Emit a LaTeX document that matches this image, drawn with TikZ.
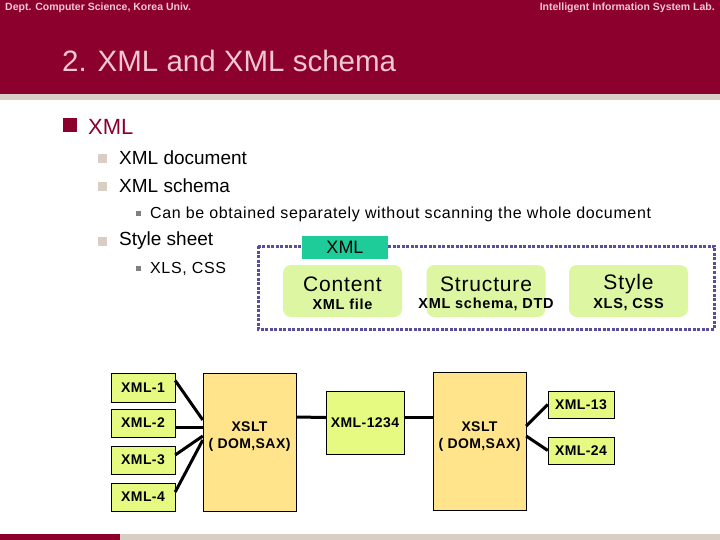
\documentclass[tikz,border=0pt]{standalone}
\usepackage{fontspec}
\setmainfont{Liberation Sans}
\usetikzlibrary{positioning,calc}
\definecolor{slidered}{RGB}{139,0,45}
\definecolor{slidebeige}{RGB}{216,206,196}
\definecolor{titlepink}{RGB}{242,200,208}
\definecolor{tagteal}{RGB}{30,204,154}
\definecolor{partgreen}{RGB}{220,246,162}
\definecolor{docgreen}{RGB}{230,250,130}
\definecolor{procyellow}{RGB}{255,228,140}
\definecolor{framepurple}{RGB}{88,78,158}
\newcommand{\fs}[1]{\fontsize{#1}{#1}\selectfont}
\newcommand{\wide}[1]{\addfontfeature{LetterSpace=#1}}

\begin{document}
\begin{tikzpicture}[x=1pt, y=-1pt,
	partbox/.style={fill=partgreen, rounded corners=8pt, minimum width=119pt, minimum height=52pt},
	docbox/.style={draw, fill=docgreen, minimum width=64pt, minimum height=28.5pt, font=\fs{14}\bfseries\wide{3}},
	procbox/.style={draw, fill=procyellow, minimum width=93pt, minimum height=138pt},
	proclabel/.style={align=center, font=\fontsize{14}{17}\selectfont\bfseries\wide{3}},
	link/.style={line width=3pt}
]
	\useasboundingbox (0,0) rectangle (720,540);
	% header and footer bands
	\fill[slidered] (0,0) rectangle (720,94);
	\fill[slidebeige] (0,94) rectangle (720,100);
	\fill[slidered] (0,534) rectangle (120,540);
	\fill[slidebeige] (120,534) rectangle (720,540);
	\node[anchor=west, text=titlepink, font=\fs{10.5}\bfseries, inner sep=0] (dept) at (5,8) {Dept. Computer Science, Korea Univ.};
	\node[anchor=east, text=titlepink, font=\fs{10.5}\bfseries, inner sep=0] (lab) at (715,8) {Intelligent Information System Lab.};
	\node[anchor=west, text=titlepink, font=\fs{29.5}, inner sep=0] (title) at (62,61) {2. XML and XML schema};
	% bullets
	\fill[slidered] (63,118) rectangle (77,132);
	\node[anchor=west, text=slidered, font=\fs{22}, inner sep=0] (b1) at (88,127) {XML};
	\foreach \y/\t in {158/XML document, 186/XML schema, 241/Style sheet} {
		\fill[slidebeige] (98,\y-4) rectangle (107,\y+5);
		\node[anchor=west, font=\fs{19}, inner sep=0] at (119,\y) {\t};
	}
	\foreach \y/\t in {214/Can be obtained separately without scanning the whole document, 269/{XLS, CSS}} {
		\fill[gray] (136,\y-3) rectangle (141,\y+2);
		\node[anchor=west, font=\fs{16}\wide{4}, inner sep=0] at (150,\y) {\t};
	}
	% XML frame
	\draw[framepurple, line width=3pt, dash pattern=on 3pt off 1.5pt] (258,246) rectangle (714,329);
	\node[fill=tagteal, minimum width=86pt, minimum height=23pt, font=\fs{18}] (tag) at (345,247.5) {XML};
	\node[partbox] (content) at (342.5,291) {};
	\node[partbox] (structure) at (486,291) {};
	\node[partbox] (style) at (628.5,291) {};
	\foreach \n/\a/\b in {content/Content/XML file, structure/Structure/{XML schema, DTD}, style/Style/{XLS, CSS}} {
		\node[font=\fs{21}\wide{4}, inner sep=0] (\n-a) at ($(\n.north)+(0,19)$) {\a};
		\node[font=\fs{14.5}\bfseries\wide{5}, inner sep=0] (\n-b) at ($(\n.north)+(0,40)$) {\b};
	}
	% transformation pipeline
	\node[docbox] (x1) at (143,387.5) {XML-1};
	\node[docbox] (x2) at (143,423) {XML-2};
	\node[docbox] (x3) at (143,460) {XML-3};
	\node[docbox] (x4) at (143,497) {XML-4};
	\node[procbox] (xslta) at (249.5,442) {};
	\node[proclabel] (xslta-t) at ($(xslta.center)+(0,-5)$) {XSLT\\( DOM,SAX)};
	\node[docbox, minimum width=78pt, minimum height=63pt] (merged) at (365,422.5) {XML-1234};
	\node[procbox] (xsltb) at (479.5,441.5) {};
	\node[proclabel] (xsltb-t) at ($(xsltb.center)+(0,-5)$) {XSLT\\( DOM,SAX)};
	\node[docbox, minimum width=66pt, minimum height=27pt] (x13) at (581,404.5) {XML-13};
	\node[docbox, minimum width=66pt, minimum height=27pt] (x24) at (581,450.5) {XML-24};
	\draw[link] ($(x1.east)+(0,-7)$) -- ($(xslta.west)+(0,-22)$);
	\draw[link] ($(x2.east)+(0,4)$) -- ($(xslta.west)+(0,-15)$);
	\draw[link] ($(x3.east)+(0,-5)$) -- ($(xslta.west)+(0,-6)$);
	\draw[link] ($(x4.east)+(0,-5)$) -- ($(xslta.west)+(0,-2)$);
	\draw[link] ($(xslta.east)+(0,-25)$) -- ($(merged.west)+(0,-5)$);
	\draw[link] ($(merged.east)+(0,-5)$) -- ($(xsltb.west)+(0,-24)$);
	\draw[link] ($(xsltb.east)+(0,-15.5)$) -- (x13.west);
	\draw[link] ($(xsltb.east)+(0,-5.5)$) -- (x24.west);
\end{tikzpicture}
\end{document}
